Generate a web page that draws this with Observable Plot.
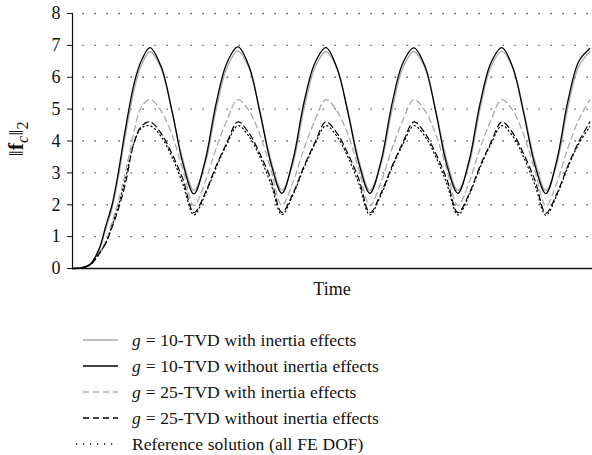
<!DOCTYPE html>
<html>
<head>
<meta charset="utf-8">
<script src="https://cdn.jsdelivr.net/npm/d3@7"></script>
<script src="https://cdn.jsdelivr.net/npm/@observablehq/plot@0.6"></script>
<style>
  body { margin: 0; background: #fff; font-family: "Liberation Serif", "DejaVu Serif", serif; }
  svg text { font-family: "Liberation Serif", "DejaVu Serif", serif !important; }
  #legend { margin-top: 22px; }
  .row { display: flex; align-items: center; height: 26px; font-size: 17.5px; color: #111; word-spacing: 0.5px; }
  .row svg { margin-left: 73px; margin-right: 14px; }
</style>
</head>
<body>
<div id="chart"></div>
<div id="legend"></div>
<script>
// Time samples (arbitrary units, one oscillation period = 1)
const time = [0, 0.1, 0.2, 0.3, 0.38, 0.45, 0.52, 0.6, 0.7, 0.78,
  0.88, 1.005, 1.13, 1.255, 1.38, 1.505, 1.63, 1.755,
  1.88, 2.005, 2.13, 2.255, 2.38, 2.505, 2.63, 2.755,
  2.88, 3.005, 3.13, 3.255, 3.38, 3.505, 3.63, 3.755,
  3.88, 4.005, 4.13, 4.255, 4.38, 4.505, 4.63, 4.755,
  4.88, 5.005, 5.13, 5.255, 5.38, 5.505, 5.63, 5.755,
  5.88];

// g = 10-TVD with inertia effects (grey solid)
const g10With = [0, 0.02, 0.12, 0.55, 1.25, 1.9, 2.85, 4.15, 5.6, 6.35,
  6.8, 6.3, 4.95, 3.4, 2.45, 3.25, 4.95, 6.3,
  6.82, 6.3, 4.95, 3.4, 2.46, 3.28, 5.0, 6.3,
  6.8, 6.28, 4.95, 3.4, 2.45, 3.25, 4.95, 6.3,
  6.8, 6.3, 4.95, 3.38, 2.45, 3.25, 4.98, 6.32,
  6.82, 6.28, 4.92, 3.38, 2.44, 3.3, 5.05, 6.35,
  6.8];

// g = 10-TVD without inertia effects (black solid)
const g10Without = [0, 0.02, 0.13, 0.6, 1.35, 2.0, 3.0, 4.35, 5.8, 6.5,
  6.93, 6.35, 4.95, 3.3, 2.34, 3.35, 5.15, 6.45,
  6.95, 6.35, 4.9, 3.3, 2.36, 3.4, 5.2, 6.45,
  6.93, 6.3, 4.9, 3.3, 2.36, 3.35, 5.15, 6.45,
  6.92, 6.35, 4.9, 3.25, 2.36, 3.35, 5.15, 6.45,
  6.93, 6.3, 4.85, 3.25, 2.35, 3.4, 5.25, 6.5,
  6.9];

// g = 25-TVD with inertia effects (grey dashed)
const g25With = [0, 0.02, 0.12, 0.5, 0.85, 1.45, 2.1, 3.0, 4.3, 5.05,
  5.3, 4.95, 4.2, 3.1, 1.97, 2.7, 3.75, 4.65,
  5.3, 4.95, 4.2, 3.1, 1.98, 2.7, 3.75, 4.65,
  5.3, 4.95, 4.2, 3.1, 1.97, 2.7, 3.75, 4.65,
  5.3, 4.95, 4.2, 3.1, 1.97, 2.68, 3.75, 4.65,
  5.3, 4.95, 4.18, 3.08, 1.96, 2.7, 3.78, 4.68,
  5.3];

// g = 25-TVD without inertia effects (black dashed)
const g25Without = [0, 0.02, 0.11, 0.45, 0.8, 1.3, 1.85, 2.65, 3.95, 4.45,
  4.6, 4.25, 3.6, 2.8, 1.75, 2.35, 3.2, 3.95,
  4.6, 4.25, 3.6, 2.8, 1.76, 2.35, 3.2, 3.95,
  4.6, 4.25, 3.6, 2.8, 1.75, 2.35, 3.2, 3.95,
  4.6, 4.25, 3.6, 2.8, 1.75, 2.33, 3.2, 3.95,
  4.6, 4.25, 3.58, 2.78, 1.74, 2.35, 3.22, 3.98,
  4.6];

// Reference solution (all FE DOF) (black dotted)
const reference = [0, 0.02, 0.11, 0.45, 0.82, 1.35, 1.95, 2.8, 3.95, 4.4,
  4.48, 4.15, 3.5, 2.65, 1.68, 2.3, 3.15, 3.9,
  4.48, 4.15, 3.5, 2.65, 1.69, 2.3, 3.15, 3.9,
  4.48, 4.15, 3.5, 2.65, 1.68, 2.3, 3.15, 3.9,
  4.48, 4.15, 3.5, 2.65, 1.68, 2.28, 3.15, 3.9,
  4.48, 4.15, 3.48, 2.63, 1.67, 2.3, 3.17, 3.92,
  4.45];

const yTicks = [0, 1, 2, 3, 4, 5, 6, 7, 8];
const gridLevels = [1, 2, 3, 4, 5, 6, 7, 8];

const series = [
  {values: g10With, stroke: "#aaaaaa", dash: null, width: 1.3},
  {values: g25With, stroke: "#aaaaaa", dash: "6,4", width: 1.3},
  {values: reference, stroke: "#000", dash: "1.2,3", width: 1.2},
  {values: g25Without, stroke: "#000", dash: "6,4", width: 1.2},
  {values: g10Without, stroke: "#000", dash: null, width: 1.3}
];

const font = '"Liberation Serif", "DejaVu Serif", serif';

const plot = Plot.plot({
  width: 592,
  height: 305,
  marginLeft: 72,
  marginRight: 0,
  marginTop: 13,
  marginBottom: 37,
  style: {fontFamily: font, fontSize: "17px", color: "#111", background: "#fff"},
  x: {domain: [0, 5.91], axis: null},
  y: {domain: [0, 8], axis: null},
  marks: [
    Plot.ruleY(gridLevels, {stroke: "#444", strokeWidth: 1.3, strokeDasharray: "1.3,10.7", strokeDashoffset: 1.5}),
    ...series.map(s => Plot.line(time, {
      x: time, y: s.values, curve: "catmull-rom",
      stroke: s.stroke, strokeWidth: s.width, strokeDasharray: s.dash
    })),
    Plot.axisY(yTicks, {tickSize: 5, tickPadding: 7, fontSize: 18, label: null, stroke: "#111"}),
    Plot.ruleX([0], {stroke: "#111", strokeWidth: 1.2}),
    Plot.ruleY([0], {stroke: "#111", strokeWidth: 1.6})
  ]
});

const svg = d3.select(plot);
// x-axis label
svg.append("text")
  .attr("x", 332).attr("y", 295)
  .attr("text-anchor", "middle")
  .attr("font-size", 18)
  .attr("fill", "#111")
  .text("Time");
// y-axis label ‖f_c‖_2
const yl = svg.append("text")
  .attr("transform", "translate(23,139) rotate(-90)")
  .attr("text-anchor", "middle")
  .attr("font-size", 22)
  .attr("fill", "#111");
yl.append("tspan").text("\u2016");
yl.append("tspan").attr("font-weight", "bold").text("f");
yl.append("tspan").attr("font-style", "italic").attr("font-size", 16).attr("dy", 5).text("c");
yl.append("tspan").attr("dy", -5).text("\u2016");
yl.append("tspan").attr("font-size", 16).attr("dy", 5).text("2");

document.getElementById("chart").appendChild(plot);

// Legend
const legendItems = [
  {g: "10", text: "-TVD with inertia effects", stroke: "#aaaaaa", dash: null},
  {g: "10", text: "-TVD without inertia effects", stroke: "#000", dash: null},
  {g: "25", text: "-TVD with inertia effects", stroke: "#aaaaaa", dash: "6,4"},
  {g: "25", text: "-TVD without inertia effects", stroke: "#000", dash: "6,4"},
  {g: null, text: "Reference solution (all FE DOF)", stroke: "#000", dash: "1.2,5.8"}
];
const legend = d3.select("#legend");
for (const it of legendItems) {
  const row = legend.append("div").attr("class", "row");
  const sw = row.append("svg").attr("width", 45).attr("height", 10);
  sw.append("line")
    .attr("x1", it.g ? 10 : 3).attr("x2", 45).attr("y1", 5).attr("y2", 5)
    .attr("stroke", it.stroke).attr("stroke-width", 1.4)
    .attr("stroke-dasharray", it.dash);
  const span = row.append("span");
  if (it.g) {
    span.append("i").text("g");
    span.append("span").text(" = " + it.g + it.text);
  } else {
    span.text(it.text);
  }
}
</script>
</body>
</html>
